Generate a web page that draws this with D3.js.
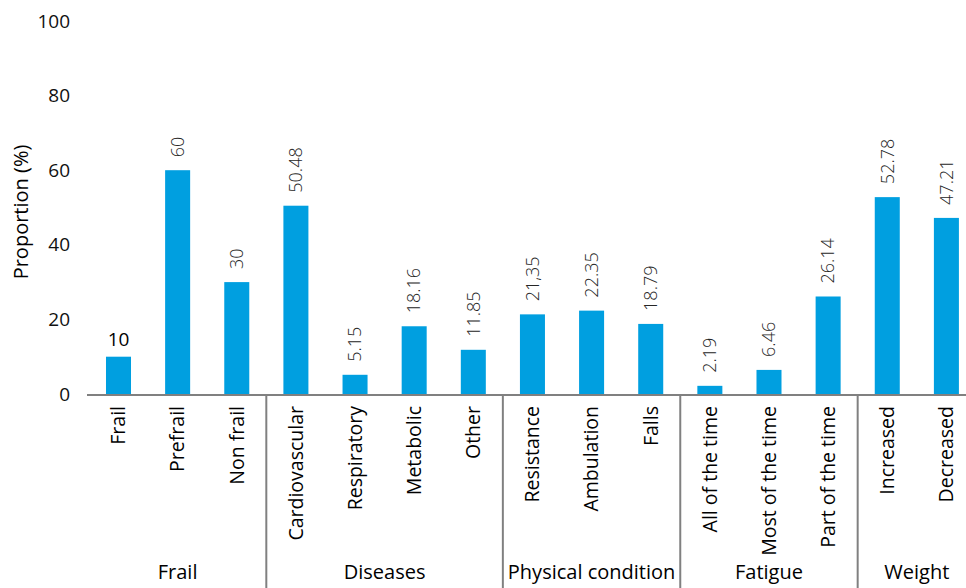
<!DOCTYPE html>
<html>
<head>
<meta charset="utf-8">
<script src="https://cdn.jsdelivr.net/npm/d3@7"></script>
<style>
  body { margin: 0; background: #fff; }
  svg { display: block; font-family: "Open Sans", "Noto Sans", sans-serif; }
</style>
</head>
<body>
<div id="chart"></div>
<script>
// datos del grafico
const categories = ["Frail", "Prefrail", "Non frail", "Cardiovascular", "Respiratory", "Metabolic", "Other",
  "Resistance", "Ambulation", "Falls", "All of the time", "Most of the time", "Part of the time", "Increased", "Decreased"];
const values = [10, 60, 30, 50.48, 5.15, 18.16, 11.85, 21.35, 22.35, 18.79, 2.19, 6.46, 26.14, 52.78, 47.21];
const valueLabels = ["10", "60", "30", "50.48", "5.15", "18.16", "11.85", "21,35", "22.35", "18.79", "2.19", "6.46", "26.14", "52.78", "47.21"];
const groups = ["Frail", "Diseases", "Physical condition", "Fatigue", "Weight"];
const groupSizes = [3, 4, 3, 3, 2];
const yTicks = [0, 20, 40, 60, 80, 100];

const width = 966, height = 588;
const svg = d3.select("#chart").append("svg")
  .attr("width", width).attr("height", height);

// escalas (el eje sigue un poco fuera del lienzo, como en el original)
const x = d3.scaleBand().domain(categories).range([88.9, 976]).paddingInner(0.577).paddingOuter(0.289);
const y = d3.scaleLinear().domain([0, 100]).range([394, 21]);

// eje Y: solo etiquetas
svg.append("g")
  .attr("transform", "translate(70,0)")
  .call(d3.axisLeft(y).tickValues(yTicks).tickSize(0).tickPadding(0))
  .call(g => g.select(".domain").remove())
  .call(g => g.selectAll("text").attr("font-size", 19).attr("fill", "#111").attr("font-family", "Open Sans"));

svg.append("text")
  .attr("transform", `translate(21,212) rotate(-90)`)
  .attr("text-anchor", "middle")
  .attr("dy", "0.35em")
  .attr("font-size", 20)
  .attr("fill", "#000")
  .text("Proportion (%)");

// barras
svg.append("g").selectAll("rect")
  .data(values)
  .join("rect")
  .attr("x", (d, i) => x(categories[i]))
  .attr("y", d => y(d))
  .attr("width", x.bandwidth())
  .attr("height", d => y(0) - y(d))
  .attr("fill", "#009FE0");

// etiquetas de valor
svg.append("g").selectAll("text")
  .data(values)
  .join("text")
  .attr("transform", (d, i) => {
    const cx = x(categories[i]) + x.bandwidth() / 2;
    return i === 0 ? `translate(${cx},${y(d) - 11})` : `translate(${cx},${y(d) - 13}) rotate(-90)`;
  })
  .attr("text-anchor", (d, i) => i === 0 ? "middle" : "start")
  .attr("dy", (d, i) => i === 0 ? 0 : "0.35em")
  .attr("font-size", (d, i) => i === 0 ? 19 : 18)
  .attr("font-weight", (d, i) => i === 0 ? 400 : 300)
  .attr("fill", (d, i) => i === 0 ? "#000" : "#262626")
  .text((d, i) => valueLabels[i]);

// linea del eje X
svg.append("line")
  .attr("x1", 87).attr("x2", 976)
  .attr("y1", y(0) + 1).attr("y2", y(0) + 1)
  .attr("stroke", "#808080").attr("stroke-width", 2);

// nombres de categoria
svg.append("g").selectAll("text")
  .data(categories)
  .join("text")
  .attr("transform", d => `translate(${x(d) + x.bandwidth() / 2},406) rotate(-90)`)
  .attr("text-anchor", "end")
  .attr("dy", "0.35em")
  .attr("font-size", 19.5)
  .attr("fill", "#000")
  .text(d => d);

// grupos y separadores
const step = x.step();
let start = 0;
groups.forEach((g, k) => {
  const x0 = 88.9 + start * step;
  const x1 = 88.9 + (start + groupSizes[k]) * step;
  if (k > 0) {
    svg.append("line")
      .attr("x1", x0).attr("x2", x0)
      .attr("y1", y(0)).attr("y2", height)
      .attr("stroke", "#808080").attr("stroke-width", 2);
  }
  svg.append("text")
    .attr("x", (x0 + x1) / 2).attr("y", 579)
    .attr("text-anchor", "middle")
    .attr("font-size", 20)
    .attr("fill", "#000")
    .text(g);
  start += groupSizes[k];
});
</script>
</body>
</html>
